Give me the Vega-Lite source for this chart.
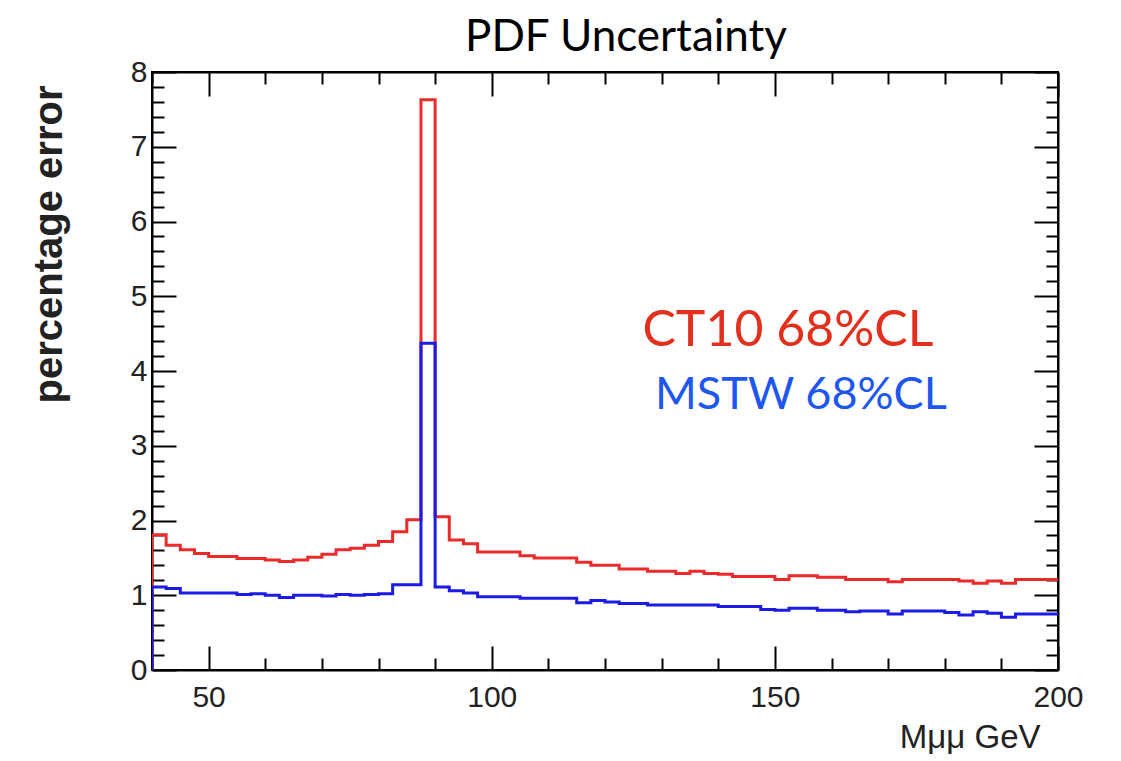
{
  "$schema": "https://vega.github.io/schema/vega-lite/v6.json",
  "width": 906,
  "height": 598,
  "autosize": {"type": "none"},
  "padding": {"left": 152, "top": 72, "right": 63, "bottom": 91},
  "background": "white",
  "title": {"text": "PDF Uncertainty", "font": "Lato", "fontSize": 44, "fontWeight": "normal", "color": "black", "anchor": "middle", "frame": "group", "dx": 21, "offset": -3},
  "config": {"view": {"stroke": "black", "strokeWidth": 2}},
  "datasets": {
    "hist": [
      {"pdf": "CT10", "i": 0, "m": 40, "err": 0},
      {"pdf": "CT10", "i": 1, "m": 40, "err": 1.81},
      {"pdf": "CT10", "i": 2, "m": 42.5, "err": 1.67},
      {"pdf": "CT10", "i": 3, "m": 45, "err": 1.61},
      {"pdf": "CT10", "i": 4, "m": 47.5, "err": 1.56},
      {"pdf": "CT10", "i": 5, "m": 50, "err": 1.52},
      {"pdf": "CT10", "i": 6, "m": 52.5, "err": 1.52},
      {"pdf": "CT10", "i": 7, "m": 55, "err": 1.49},
      {"pdf": "CT10", "i": 8, "m": 57.5, "err": 1.49},
      {"pdf": "CT10", "i": 9, "m": 60, "err": 1.47},
      {"pdf": "CT10", "i": 10, "m": 62.5, "err": 1.45},
      {"pdf": "CT10", "i": 11, "m": 65, "err": 1.47},
      {"pdf": "CT10", "i": 12, "m": 67.5, "err": 1.51},
      {"pdf": "CT10", "i": 13, "m": 70, "err": 1.55},
      {"pdf": "CT10", "i": 14, "m": 72.5, "err": 1.61},
      {"pdf": "CT10", "i": 15, "m": 75, "err": 1.63},
      {"pdf": "CT10", "i": 16, "m": 77.5, "err": 1.67},
      {"pdf": "CT10", "i": 17, "m": 80, "err": 1.72},
      {"pdf": "CT10", "i": 18, "m": 82.5, "err": 1.85},
      {"pdf": "CT10", "i": 19, "m": 85, "err": 2.01},
      {"pdf": "CT10", "i": 20, "m": 87.5, "err": 7.63},
      {"pdf": "CT10", "i": 21, "m": 90, "err": 2.05},
      {"pdf": "CT10", "i": 22, "m": 92.5, "err": 1.74},
      {"pdf": "CT10", "i": 23, "m": 95, "err": 1.69},
      {"pdf": "CT10", "i": 24, "m": 97.5, "err": 1.58},
      {"pdf": "CT10", "i": 25, "m": 100, "err": 1.58},
      {"pdf": "CT10", "i": 26, "m": 102.5, "err": 1.58},
      {"pdf": "CT10", "i": 27, "m": 105, "err": 1.53},
      {"pdf": "CT10", "i": 28, "m": 107.5, "err": 1.5},
      {"pdf": "CT10", "i": 29, "m": 110, "err": 1.5},
      {"pdf": "CT10", "i": 30, "m": 112.5, "err": 1.5},
      {"pdf": "CT10", "i": 31, "m": 115, "err": 1.44},
      {"pdf": "CT10", "i": 32, "m": 117.5, "err": 1.4},
      {"pdf": "CT10", "i": 33, "m": 120, "err": 1.4},
      {"pdf": "CT10", "i": 34, "m": 122.5, "err": 1.35},
      {"pdf": "CT10", "i": 35, "m": 125, "err": 1.35},
      {"pdf": "CT10", "i": 36, "m": 127.5, "err": 1.32},
      {"pdf": "CT10", "i": 37, "m": 130, "err": 1.32},
      {"pdf": "CT10", "i": 38, "m": 132.5, "err": 1.29},
      {"pdf": "CT10", "i": 39, "m": 135, "err": 1.32},
      {"pdf": "CT10", "i": 40, "m": 137.5, "err": 1.29},
      {"pdf": "CT10", "i": 41, "m": 140, "err": 1.28},
      {"pdf": "CT10", "i": 42, "m": 142.5, "err": 1.25},
      {"pdf": "CT10", "i": 43, "m": 145, "err": 1.25},
      {"pdf": "CT10", "i": 44, "m": 147.5, "err": 1.25},
      {"pdf": "CT10", "i": 45, "m": 150, "err": 1.21},
      {"pdf": "CT10", "i": 46, "m": 152.5, "err": 1.26},
      {"pdf": "CT10", "i": 47, "m": 155, "err": 1.26},
      {"pdf": "CT10", "i": 48, "m": 157.5, "err": 1.24},
      {"pdf": "CT10", "i": 49, "m": 160, "err": 1.24},
      {"pdf": "CT10", "i": 50, "m": 162.5, "err": 1.21},
      {"pdf": "CT10", "i": 51, "m": 165, "err": 1.21},
      {"pdf": "CT10", "i": 52, "m": 167.5, "err": 1.21},
      {"pdf": "CT10", "i": 53, "m": 170, "err": 1.18},
      {"pdf": "CT10", "i": 54, "m": 172.5, "err": 1.21},
      {"pdf": "CT10", "i": 55, "m": 175, "err": 1.21},
      {"pdf": "CT10", "i": 56, "m": 177.5, "err": 1.21},
      {"pdf": "CT10", "i": 57, "m": 180, "err": 1.21},
      {"pdf": "CT10", "i": 58, "m": 182.5, "err": 1.19},
      {"pdf": "CT10", "i": 59, "m": 185, "err": 1.16},
      {"pdf": "CT10", "i": 60, "m": 187.5, "err": 1.19},
      {"pdf": "CT10", "i": 61, "m": 190, "err": 1.16},
      {"pdf": "CT10", "i": 62, "m": 192.5, "err": 1.21},
      {"pdf": "CT10", "i": 63, "m": 195, "err": 1.21},
      {"pdf": "CT10", "i": 64, "m": 197.5, "err": 1.21},
      {"pdf": "CT10", "i": 65, "m": 200, "err": 1.21},
      {"pdf": "MSTW", "i": 0, "m": 40, "err": 0},
      {"pdf": "MSTW", "i": 1, "m": 40, "err": 1.11},
      {"pdf": "MSTW", "i": 2, "m": 42.5, "err": 1.09},
      {"pdf": "MSTW", "i": 3, "m": 45, "err": 1.03},
      {"pdf": "MSTW", "i": 4, "m": 47.5, "err": 1.03},
      {"pdf": "MSTW", "i": 5, "m": 50, "err": 1.03},
      {"pdf": "MSTW", "i": 6, "m": 52.5, "err": 1.03},
      {"pdf": "MSTW", "i": 7, "m": 55, "err": 1.01},
      {"pdf": "MSTW", "i": 8, "m": 57.5, "err": 1.02},
      {"pdf": "MSTW", "i": 9, "m": 60, "err": 1.0},
      {"pdf": "MSTW", "i": 10, "m": 62.5, "err": 0.97},
      {"pdf": "MSTW", "i": 11, "m": 65, "err": 1.0},
      {"pdf": "MSTW", "i": 12, "m": 67.5, "err": 1.0},
      {"pdf": "MSTW", "i": 13, "m": 70, "err": 0.99},
      {"pdf": "MSTW", "i": 14, "m": 72.5, "err": 1.01},
      {"pdf": "MSTW", "i": 15, "m": 75, "err": 1.0},
      {"pdf": "MSTW", "i": 16, "m": 77.5, "err": 1.01},
      {"pdf": "MSTW", "i": 17, "m": 80, "err": 1.02},
      {"pdf": "MSTW", "i": 18, "m": 82.5, "err": 1.14},
      {"pdf": "MSTW", "i": 19, "m": 85, "err": 1.14},
      {"pdf": "MSTW", "i": 20, "m": 87.5, "err": 4.37},
      {"pdf": "MSTW", "i": 21, "m": 90, "err": 1.11},
      {"pdf": "MSTW", "i": 22, "m": 92.5, "err": 1.06},
      {"pdf": "MSTW", "i": 23, "m": 95, "err": 1.03},
      {"pdf": "MSTW", "i": 24, "m": 97.5, "err": 0.98},
      {"pdf": "MSTW", "i": 25, "m": 100, "err": 0.98},
      {"pdf": "MSTW", "i": 26, "m": 102.5, "err": 0.98},
      {"pdf": "MSTW", "i": 27, "m": 105, "err": 0.96},
      {"pdf": "MSTW", "i": 28, "m": 107.5, "err": 0.96},
      {"pdf": "MSTW", "i": 29, "m": 110, "err": 0.96},
      {"pdf": "MSTW", "i": 30, "m": 112.5, "err": 0.96},
      {"pdf": "MSTW", "i": 31, "m": 115, "err": 0.9},
      {"pdf": "MSTW", "i": 32, "m": 117.5, "err": 0.93},
      {"pdf": "MSTW", "i": 33, "m": 120, "err": 0.91},
      {"pdf": "MSTW", "i": 34, "m": 122.5, "err": 0.89},
      {"pdf": "MSTW", "i": 35, "m": 125, "err": 0.89},
      {"pdf": "MSTW", "i": 36, "m": 127.5, "err": 0.87},
      {"pdf": "MSTW", "i": 37, "m": 130, "err": 0.87},
      {"pdf": "MSTW", "i": 38, "m": 132.5, "err": 0.87},
      {"pdf": "MSTW", "i": 39, "m": 135, "err": 0.87},
      {"pdf": "MSTW", "i": 40, "m": 137.5, "err": 0.87},
      {"pdf": "MSTW", "i": 41, "m": 140, "err": 0.85},
      {"pdf": "MSTW", "i": 42, "m": 142.5, "err": 0.85},
      {"pdf": "MSTW", "i": 43, "m": 145, "err": 0.85},
      {"pdf": "MSTW", "i": 44, "m": 147.5, "err": 0.81},
      {"pdf": "MSTW", "i": 45, "m": 150, "err": 0.8},
      {"pdf": "MSTW", "i": 46, "m": 152.5, "err": 0.825},
      {"pdf": "MSTW", "i": 47, "m": 155, "err": 0.825},
      {"pdf": "MSTW", "i": 48, "m": 157.5, "err": 0.8},
      {"pdf": "MSTW", "i": 49, "m": 160, "err": 0.8},
      {"pdf": "MSTW", "i": 50, "m": 162.5, "err": 0.78},
      {"pdf": "MSTW", "i": 51, "m": 165, "err": 0.79},
      {"pdf": "MSTW", "i": 52, "m": 167.5, "err": 0.79},
      {"pdf": "MSTW", "i": 53, "m": 170, "err": 0.75},
      {"pdf": "MSTW", "i": 54, "m": 172.5, "err": 0.79},
      {"pdf": "MSTW", "i": 55, "m": 175, "err": 0.79},
      {"pdf": "MSTW", "i": 56, "m": 177.5, "err": 0.79},
      {"pdf": "MSTW", "i": 57, "m": 180, "err": 0.77},
      {"pdf": "MSTW", "i": 58, "m": 182.5, "err": 0.735},
      {"pdf": "MSTW", "i": 59, "m": 185, "err": 0.78},
      {"pdf": "MSTW", "i": 60, "m": 187.5, "err": 0.76},
      {"pdf": "MSTW", "i": 61, "m": 190, "err": 0.705},
      {"pdf": "MSTW", "i": 62, "m": 192.5, "err": 0.75},
      {"pdf": "MSTW", "i": 63, "m": 195, "err": 0.75},
      {"pdf": "MSTW", "i": 64, "m": 197.5, "err": 0.75},
      {"pdf": "MSTW", "i": 65, "m": 200, "err": 0.75}
    ],
    "labels": [
      {"label": "CT10 68%CL", "m": 152.3, "err": 4.54},
      {"label": "MSTW 68%CL", "m": 154.6, "err": 3.68}
    ]
  },
  "layer": [
    {
      "data": {"name": "hist"},
      "transform": [{"filter": "datum.pdf === 'CT10'"}],
      "mark": {"type": "line", "interpolate": "step-after", "color": "#ec2a2a", "strokeWidth": 3, "clip": true},
      "encoding": {
        "x": {"field": "m", "type": "quantitative", "scale": {"domain": [40, 200], "nice": false, "zero": false},
          "axis": {"orient": "bottom", "values": [40, 50, 60, 70, 80, 90, 100, 110, 120, 130, 140, 150, 160, 170, 180, 190, 200],
            "tickSize": {"condition": {"test": "datum.value % 50 === 0", "value": -24}, "value": -12},
            "labelExpr": "datum.value % 50 === 0 && datum.value > 40 ? datum.label : ''",
            "labelPadding": 36, "labelFont": "Liberation Sans", "labelFontSize": 30, "labelColor": "#222", "labelFlush": false, "labelOverlap": false,
            "tickColor": "black", "tickWidth": 2, "domainColor": "black", "domainWidth": 2, "grid": false,
            "title": "Mμμ GeV", "titleFont": "Liberation Sans", "titleFontSize": 33, "titleFontWeight": "normal", "titleColor": "#222",
            "titleAnchor": "end", "titleAlign": "right", "titleBaseline": "alphabetic", "titleX": 888, "titleY": 77}},
        "y": {"field": "err", "type": "quantitative", "scale": {"domain": [0, 8], "nice": false},
          "axis": {"orient": "left", "values": [0, 0.2, 0.4, 0.6, 0.8, 1, 1.2, 1.4, 1.6, 1.8, 2, 2.2, 2.4, 2.6, 2.8, 3, 3.2, 3.4, 3.6, 3.8, 4, 4.2, 4.4, 4.6, 4.8, 5, 5.2, 5.4, 5.6, 5.8, 6, 6.2, 6.4, 6.6, 6.8, 7, 7.2, 7.4, 7.6, 7.8, 8],
            "tickSize": {"condition": {"test": "abs(datum.value - round(datum.value)) < 0.001", "value": -24}, "value": -12},
            "labelExpr": "abs(datum.value - round(datum.value)) < 0.001 ? format(datum.value, 'd') : ''",
            "labelPadding": 29, "labelFont": "Liberation Sans", "labelFontSize": 30, "labelColor": "#222", "labelFlush": false, "labelOverlap": false,
            "tickColor": "black", "tickWidth": 2, "domainColor": "black", "domainWidth": 2, "grid": false,
            "title": "percentage error", "titleFont": "Liberation Sans", "titleFontSize": 40, "titleFontWeight": "bold", "titleColor": "#222",
            "titleAnchor": "middle", "titleAlign": "center", "titleBaseline": "middle", "titleAngle": -90, "titleX": -103, "titleY": 172}},
        "order": {"field": "i", "type": "quantitative"}
      }
    },
    {
      "data": {"name": "hist"},
      "transform": [{"filter": "datum.pdf === 'MSTW'"}],
      "mark": {"type": "line", "interpolate": "step-after", "color": "#1b1be6", "strokeWidth": 3, "clip": true},
      "encoding": {
        "x": {"field": "m", "type": "quantitative", "axis": null},
        "y": {"field": "err", "type": "quantitative", "axis": null},
        "order": {"field": "i", "type": "quantitative"}
      }
    },
    {
      "data": {"name": "labels"},
      "transform": [{"filter": "datum.label === 'CT10 68%CL'"}],
      "mark": {"type": "text", "font": "Lato", "fontSize": 50, "align": "center", "baseline": "middle", "color": "#e3301d"},
      "encoding": {
        "x": {"field": "m", "type": "quantitative",
          "axis": {"orient": "top", "values": [40, 50, 60, 70, 80, 90, 100, 110, 120, 130, 140, 150, 160, 170, 180, 190, 200],
            "tickSize": {"condition": {"test": "datum.value % 50 === 0", "value": -24}, "value": -12},
            "labels": false, "title": null, "tickColor": "black", "tickWidth": 2, "domainColor": "black", "domainWidth": 2, "grid": false}},
        "y": {"field": "err", "type": "quantitative",
          "axis": {"orient": "right", "values": [0, 0.2, 0.4, 0.6, 0.8, 1, 1.2, 1.4, 1.6, 1.8, 2, 2.2, 2.4, 2.6, 2.8, 3, 3.2, 3.4, 3.6, 3.8, 4, 4.2, 4.4, 4.6, 4.8, 5, 5.2, 5.4, 5.6, 5.8, 6, 6.2, 6.4, 6.6, 6.8, 7, 7.2, 7.4, 7.6, 7.8, 8],
            "tickSize": {"condition": {"test": "abs(datum.value - round(datum.value)) < 0.001", "value": -24}, "value": -12},
            "labels": false, "title": null, "tickColor": "black", "tickWidth": 2, "domainColor": "black", "domainWidth": 2, "grid": false}},
        "text": {"field": "label", "type": "nominal"}
      }
    },
    {
      "data": {"name": "labels"},
      "transform": [{"filter": "datum.label === 'MSTW 68%CL'"}],
      "mark": {"type": "text", "font": "Lato", "fontSize": 45, "align": "center", "baseline": "middle", "color": "#1d57f0"},
      "encoding": {
        "x": {"field": "m", "type": "quantitative", "axis": null},
        "y": {"field": "err", "type": "quantitative", "axis": null},
        "text": {"field": "label", "type": "nominal"}
      }
    }
  ],
  "resolve": {"axis": {"x": "independent", "y": "independent"}}
}
